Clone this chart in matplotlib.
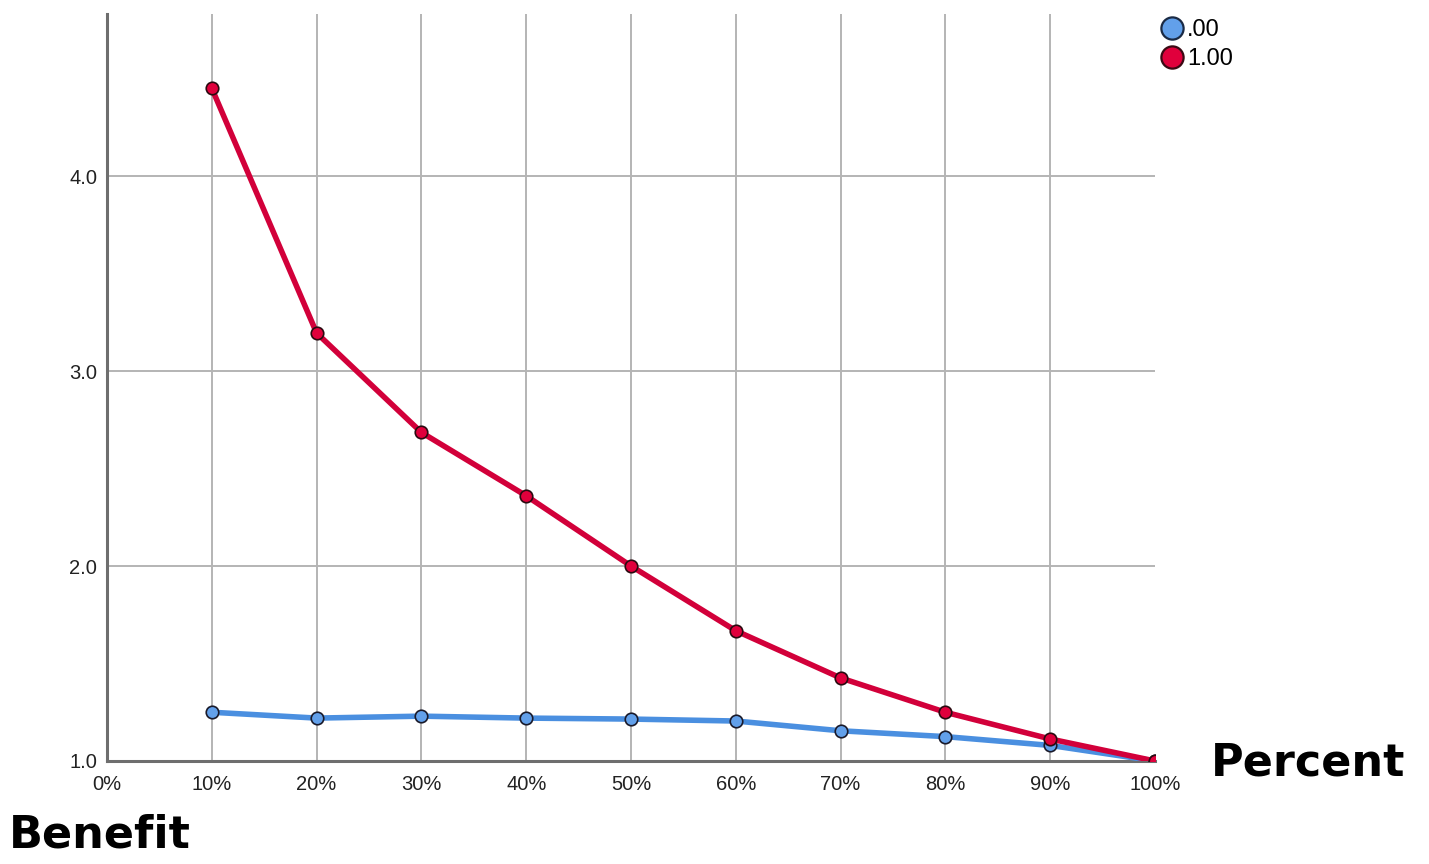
import matplotlib
matplotlib.use("Agg")
import matplotlib.pyplot as plt
from matplotlib.lines import Line2D

# data
percent = [10, 20, 30, 40, 50, 60, 70, 80, 90, 100]
benefit_00 = [1.25, 1.22, 1.23, 1.22, 1.215, 1.205, 1.155, 1.125, 1.08, 1.0]
benefit_100 = [4.45, 3.195, 2.685, 2.36, 2.0, 1.668, 1.426, 1.25, 1.113, 1.0]
x_ticks = [0, 10, 20, 30, 40, 50, 60, 70, 80, 90, 100]
y_ticks = [1.0, 2.0, 3.0, 4.0]
series_labels = [".00", "1.00"]

BLUE_LINE = "#4A8FE0"
BLUE_FACE = "#62A0EA"
RED_LINE = "#D2003A"
RED_FACE = "#E0003C"
GRID = "#B4B4B4"
SPINE = "#6E6E6E"

W, H = 1429, 864
fig = plt.figure(figsize=(W / 100, H / 100), dpi=100)
ax = fig.add_axes([107 / W, 1 - 761 / H, (1155 - 107) / W, (761 - 14) / H])

ax.plot(percent, benefit_00, color=BLUE_LINE, lw=4.0, marker="o", ms=9,
        mfc=BLUE_FACE, mec="#1a1a2a", mew=1.2, zorder=3, solid_capstyle="round")
ax.plot(percent, benefit_100, color=RED_LINE, lw=4.0, marker="o", ms=9,
        mfc=RED_FACE, mec="#2a0a10", mew=1.2, zorder=4, solid_capstyle="round")

ax.set_xlim(0, 100)
ax.set_ylim(1.0, 1.0 + (761 - 14) / 195)
ax.set_xticks(x_ticks)
ax.set_xticklabels([f"{v}%" for v in x_ticks])
ax.set_yticks(y_ticks)
ax.set_yticklabels([f"{v:.1f}" for v in y_ticks])

for lab in ax.get_xticklabels() + ax.get_yticklabels():
    lab.set_fontfamily(["Liberation Sans", "DejaVu Sans"])
    lab.set_fontsize(14.5)
    lab.set_color("#222222")
ax.tick_params(axis="both", length=0)
ax.tick_params(axis="x", pad=10)
ax.tick_params(axis="y", pad=7)

ax.grid(True, color=GRID, lw=1.4, zorder=0)
ax.set_axisbelow(True)
# no grid line on the axes edges
for gl in ax.get_xgridlines():
    if gl.get_xdata()[0] in (0, 100):
        gl.set_visible(False)
for gl in ax.get_ygridlines():
    if gl.get_ydata()[0] == 1.0:
        gl.set_visible(False)

for s in ["top", "right"]:
    ax.spines[s].set_visible(False)
for s in ["left", "bottom"]:
    ax.spines[s].set_color(SPINE)
    ax.spines[s].set_linewidth(2.2)

handles = [
    Line2D([], [], ls="none", marker="o", ms=16, mfc=BLUE_FACE, mec="#1a2a44", mew=1.6),
    Line2D([], [], ls="none", marker="o", ms=16, mfc=RED_FACE, mec="#3a0a14", mew=1.6),
]
leg = fig.legend(handles, series_labels, loc="upper left",
                 bbox_to_anchor=(1160 / W, 1 - 19 / H), frameon=False,
                 prop={"family": ["Liberation Sans", "DejaVu Sans"], "size": 17},
                 handlelength=1.0, handletextpad=0.15, labelspacing=0.3,
                 borderaxespad=0, borderpad=0)

fig.text(1211 / W, 1 - 775 / H, "Percent", fontsize=32, fontweight="bold",
         family="DejaVu Sans", ha="left", va="baseline")
fig.text(9 / W, 1 - 848 / H, "Benefit", fontsize=32, fontweight="bold",
         family="DejaVu Sans", ha="left", va="baseline")

fig.savefig("out.png", dpi=100, facecolor="white")
